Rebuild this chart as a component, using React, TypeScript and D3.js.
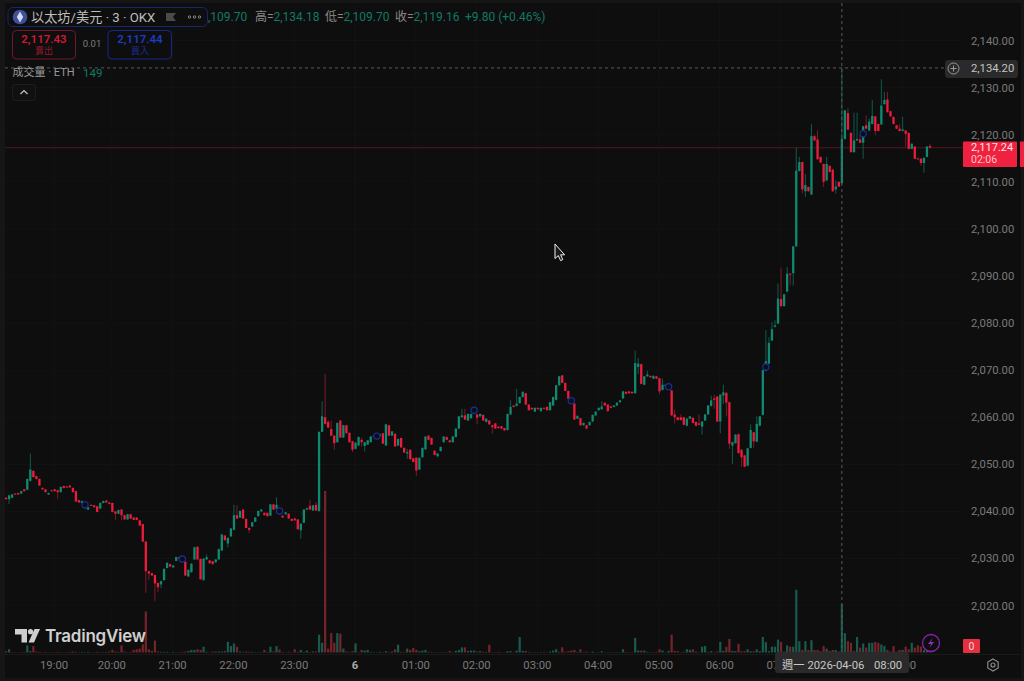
import React from "react";
import * as d3 from "d3";

const opens = [
2042.9,2042.6,2042.9,2043.8,2043.9,2043.8,2044.7,2044.6,2046.5,2048.6,
2047.5,2046.9,2045,2044.7,2043.6,2044.5,2044.7,2044.5,2044.1,2045.4,
2045.3,2045.5,2045,2044.3,2042.4,2041.8,2041.1,2040.4,2041.4,2041.3,
2041.1,2040.6,2041.8,2042.3,2041.9,2041.8,2040,2039.5,2040.4,2039.2,
2038.3,2039.4,2038.7,2038.7,2038.1,2037.3,2033.6,2027.3,2026.9,2026.5,
2024.8,2024.5,2025.4,2028,2028.8,2028.1,2029.5,2030.3,2030,2029.3,
2026.2,2027.1,2029.8,2032.5,2029.9,2025.4,2029.8,2029.6,2029.4,2029.2,
2029.8,2031.7,2034.9,2033.2,2034.7,2036.1,2039.2,2038.7,2040.4,2038.4,
2036.5,2036.8,2037.8,2039,2040,2039.7,2039.7,2039.1,2041.5,2040.6,
2040.5,2039.1,2039.4,2039.5,2038.4,2038.5,2038.3,2036,2037.6,2040.4,
2041.2,2040.2,2041.4,2040.1,2056.9,2060,2059,2057.5,2056.1,2054.7,
2059.3,2055.7,2058.3,2056.7,2054.9,2053.3,2054,2055.2,2053.9,2054.2,
2054.7,2055.9,2055.8,2056.1,2056.6,2054,2058.3,2056.1,2056.5,2054,
2055.6,2053.5,2052.3,2053.1,2051.3,2051.4,2048.9,2051.5,2053.2,2056.1,
2055.6,2052.9,2051.7,2052.8,2054.7,2055.8,2055.1,2054.7,2055.8,2057.6,
2060,2060.4,2059.3,2059.8,2061,2060.6,2060.2,2060.5,2059,2059.3,
2058.3,2058.7,2058,2058.1,2057.7,2057.3,2060.6,2062.5,2062.4,2063,
2064.3,2065.1,2062.7,2062,2061.2,2062,2061.3,2062,2062.2,2061.5,
2062.5,2063.7,2066.8,2068.9,2067.3,2065.6,2063.9,2062.9,2059.7,2059.8,
2058.3,2058.3,2058.3,2059.1,2060.4,2061.5,2061.7,2063.1,2062.7,2062.3,
2062.2,2062.5,2063.2,2064,2065.4,2065.5,2065.4,2065.1,2070.7,2071.3,
2066.9,2068.7,2068.8,2068.2,2068.7,2068.3,2065.8,2066.6,2066.3,2065.7,
2060.6,2060,2060,2060,2058.2,2059.7,2059.9,2059,2058.7,2058,
2059.3,2060.6,2062.4,2064,2064.4,2059.1,2064.6,2065.2,2063.2,2054,
2054.5,2056.4,2053.1,2051.9,2049.7,2053.5,2056.8,2054.8,2058.2,2060.5,
2069.9,2071.4,2076.3,2079.2,2079.9,2085.1,2083.6,2086.7,2090.5,2090.6,
2096.3,2112.3,2114.2,2108,2108.9,2107.3,2119.7,2119,2115.3,2113.8,
2110.3,2113.4,2112.6,2108.4,2110,2109.7,2119.1,2124.6,2120.4,2116.3,
2118.8,2119,2118.3,2122,2120.9,2122.3,2123.9,2122.3,2122.2,2126.5,
2127.5,2125,2123.8,2122,2121.3,2120.8,2120.9,2120.4,2117,2117.5,
2115,2114.9,2114,2115.3,2117.6,
];

const closes = [
2042.6,2043.4,2043.6,2043.6,2043.6,2044.3,2044.3,2046.9,2048.9,2047.3,
2046.9,2045.5,2044.7,2044.1,2043.9,2044.3,2044.3,2044.1,2045.2,2045,
2045.1,2045.1,2044.1,2042.1,2041.9,2042.2,2041.9,2040.9,2041.2,2040.9,
2039.9,2041.8,2042.2,2041.9,2041.6,2039.9,2039.5,2040.3,2039.2,2038.3,
2039.4,2038.5,2038.2,2038.2,2037,2033.6,2027.3,2026.8,2026.4,2024.7,
2023.9,2025.2,2027.8,2029.1,2028.3,2028.5,2030.3,2030,2029.5,2026.4,
2027.6,2028.9,2032.4,2029.8,2025.6,2030,2030.3,2029,2028.8,2029.8,
2032,2035.1,2033.9,2034.4,2036.4,2039.2,2038.5,2040.1,2038.5,2036.5,
2036.1,2037.7,2038.7,2040.1,2040.4,2039.2,2039,2041.5,2040.4,2041.4,
2039.5,2038.7,2039.8,2038.5,2038,2038.1,2036.2,2037.4,2040.4,2040.7,
2040.4,2041.3,2040.2,2056.9,2060.2,2058.6,2057.8,2056.1,2054.5,2058.8,
2055.7,2058.3,2056.6,2054.7,2053.1,2054.6,2055.8,2054.7,2054.7,2055.1,
2055.9,2056.1,2056,2056.4,2054.4,2058.5,2056.1,2057,2053.8,2055.4,
2053.6,2052.5,2052.6,2051.1,2050.5,2048.7,2051.4,2053.5,2055.9,2055.2,
2054.2,2052,2052.3,2053.7,2055.9,2055.2,2054.7,2055.9,2057.6,2060.2,
2060.4,2059.5,2060.7,2060.7,2061.4,2059.9,2060.7,2059.3,2059.7,2058.5,
2057.9,2057.6,2057.7,2057.6,2057.2,2060.7,2062.2,2062.2,2062.9,2064.3,
2065.4,2062.7,2061.5,2061.7,2062,2061.7,2062,2061.8,2061.5,2063.2,
2064.3,2066.8,2068.7,2067.3,2065.6,2063.9,2063,2059.5,2060.3,2058.3,
2058.8,2057.6,2059,2060.5,2061.2,2062,2062.3,2062.5,2061.3,2062,
2062.5,2063.1,2063.6,2065.5,2065,2065.1,2065.1,2071.5,2071.4,2067.1,
2068.7,2069.1,2068.5,2068.8,2068.2,2065.5,2066.9,2066.9,2066.5,2060.4,
2060,2059.4,2059.4,2058.4,2059.7,2060.2,2058.8,2058.2,2058.4,2059.1,
2060.6,2062.5,2063.6,2063.7,2059.1,2064.8,2065.3,2063.1,2054.4,2054.7,
2056.3,2052.4,2051.5,2049.5,2053.4,2057.3,2054.9,2058.6,2060.2,2070,
2071.9,2075.8,2078.7,2079.5,2085.2,2083.6,2086.1,2090.5,2090.3,2096.3,
2112.4,2114.2,2108.4,2109.3,2108,2119.7,2118.8,2114.8,2114.1,2110,
2113.8,2112.1,2108,2109,2109,2119.16,2125.2,2121.1,2116.3,2118.8,
2119.1,2118.3,2121.8,2121.3,2122.8,2124,2120.8,2120.8,2126.2,2127.4,
2124.8,2123.9,2122.3,2121.3,2120.8,2121.1,2120.2,2117,2118.1,2114.9,
2114.8,2114,2115.1,2117.5,2117.24,
];

const highs = [
2043,2043.6,2043.7,2043.9,2044,2044.4,2044.8,2047,2052.3,2048.8,
2047.6,2047,2045.1,2044.8,2044,2044.6,2044.8,2044.6,2045.3,2045.5,
2045.4,2045.6,2045.1,2044.4,2042.5,2042.3,2042,2041,2041.5,2041.4,
2041.2,2041.9,2042.3,2042.4,2042,2041.9,2040.1,2040.4,2040.5,2039.3,
2039.5,2039.5,2038.8,2038.8,2038.2,2037.4,2033.7,2027.4,2027,2026.6,
2024.9,2025.3,2027.9,2029.2,2028.9,2028.6,2030.4,2030.4,2030.1,2029.4,
2027.7,2029,2032.5,2032.6,2030,2030.1,2030.9,2029.7,2029.5,2029.9,
2032.1,2035.2,2035,2034.5,2036.5,2041.4,2041.3,2040.2,2040.5,2038.5,
2036.6,2037.8,2038.8,2040.2,2040.5,2039.8,2039.8,2041.6,2041.6,2043,
2040.6,2039.2,2039.9,2039.6,2038.5,2038.6,2038.4,2037.5,2040.5,2040.8,
2042.4,2041.4,2042,2057,2063.4,2069.2,2059.4,2059.3,2056.2,2058.9,
2059.4,2058.4,2058.4,2056.8,2055,2054.7,2055.9,2055.6,2054.8,2055.2,
2056,2056.2,2056.1,2056.5,2056.7,2058.6,2058.4,2057.1,2056.6,2055.5,
2055.7,2053.6,2053.3,2053.2,2051.4,2051.5,2051.5,2053.6,2056,2056.2,
2055.7,2053,2052.4,2053.8,2056,2055.9,2055.2,2056,2057.7,2060.3,
2061.8,2061.8,2060.8,2060.8,2061.5,2060.7,2060.8,2060.6,2059.8,2059.4,
2058.4,2058.8,2058.1,2058.2,2057.8,2060.8,2063.6,2062.6,2066,2064.4,
2065.5,2065.2,2062.8,2062.1,2062.1,2062.1,2062.1,2062.1,2062.3,2063.3,
2064.4,2066.9,2068.8,2069,2067.4,2065.7,2064,2063,2060.4,2059.9,
2058.9,2058.4,2059.1,2060.6,2061.3,2062.1,2063.4,2063.2,2062.8,2062.4,
2062.6,2063.2,2063.7,2065.6,2065.5,2065.6,2065.5,2074.2,2072.6,2071.4,
2068.8,2069.9,2068.9,2068.9,2068.8,2068.4,2068.2,2067,2066.6,2065.8,
2061.6,2060.1,2060.6,2060.1,2059.8,2060.3,2060,2059.1,2060.6,2059.2,
2060.7,2062.6,2064.6,2064.8,2064.5,2064.9,2066.9,2065.3,2063.3,2054.8,
2056.4,2056.5,2053.2,2052,2053.5,2058.5,2056.9,2060.2,2060.3,2070.1,
2078.5,2077,2080.2,2080.6,2088.4,2091.8,2086.2,2091.9,2090.6,2096.4,
2117.3,2115.3,2114.3,2111.7,2109,2122.3,2120,2120.9,2115.4,2113.9,
2115.3,2113.5,2112.7,2110.3,2110.1,2134.18,2125.3,2125.7,2120.5,2124.7,
2124.7,2119.9,2121.9,2124.1,2123.5,2127.4,2124,2122.4,2131.8,2129.1,
2129.1,2125.1,2123.9,2122.1,2122.3,2123.8,2121,2120.5,2118.2,2117.6,
2115.1,2115,2115.2,2117.6,2118.1,
];

const lows = [
2042.5,2041.6,2042.8,2043.5,2043.5,2043.7,2044.2,2044.5,2046.3,2047.2,
2046.8,2045.4,2044.6,2044,2043.5,2044.2,2044.2,2042.7,2044,2044.9,
2045,2045,2044,2042,2041.8,2041.7,2040.5,2040.3,2041.1,2040.8,
2039.8,2040.5,2041.7,2041.8,2041.5,2039.8,2038.2,2039.4,2038.1,2038.2,
2038.2,2038.4,2038.1,2038.1,2036.9,2033.5,2022.7,2025.4,2026.3,2021,
2022.9,2023.7,2025.3,2027.9,2028.2,2028,2029.4,2029.9,2029.4,2026.3,
2026.1,2027,2029.7,2029.7,2025.5,2025.3,2029.7,2028.9,2028.7,2029.1,
2029.7,2031.6,2033.8,2032.4,2034.6,2036,2038.4,2038.6,2038.4,2036.4,
2035.4,2036.7,2037.7,2038.9,2039.9,2039.1,2038.9,2039,2040.3,2040.5,
2039.4,2038.6,2039.3,2038.4,2037.9,2038,2036.1,2034.2,2037.5,2040.3,
2040.3,2040.1,2040.1,2039.9,2056.8,2058.5,2057.7,2056,2053.1,2054.6,
2055.6,2055.6,2056.5,2054.6,2052.6,2053.2,2053.9,2053.8,2052.7,2054.1,
2054.6,2055.8,2055.7,2056,2054.3,2053.9,2056,2056,2053.7,2053.9,
2053.5,2052.4,2051.2,2051,2050.4,2047.6,2048.8,2051.4,2053.1,2055.1,
2054.1,2051.9,2051.6,2052.7,2054.6,2055.1,2054.6,2054.6,2055.7,2057.5,
2059.9,2059.4,2059.2,2059.7,2060.9,2058.5,2060.1,2059.2,2058.9,2058.4,
2056.5,2057.5,2057.6,2057.5,2057.1,2057.2,2060.5,2062.1,2062.3,2062.9,
2064.2,2062.6,2061.4,2061.6,2061.1,2061.6,2061.2,2061.7,2061.4,2061.4,
2062.4,2063.6,2066.7,2067.2,2065.5,2063.8,2062.9,2059.4,2059.6,2058.2,
2058.2,2057.5,2058.2,2059,2060.3,2061.4,2061.6,2062.4,2061.2,2061.9,
2062.1,2062.4,2063.1,2063.9,2064.9,2065,2065,2065,2069.2,2067,
2066.8,2068.6,2068.4,2068.1,2068.1,2064.9,2065.7,2066.5,2066.2,2060.3,
2058.7,2059.3,2059.3,2058.3,2058.1,2059.6,2058.7,2058.1,2058.3,2056.3,
2059.2,2060.5,2062.3,2061.8,2059,2056.6,2062.8,2060.2,2053.3,2050.1,
2054.4,2052.3,2049.5,2049.4,2049.6,2053.4,2053.5,2054.7,2058.1,2060.4,
2069.8,2071.3,2076.2,2079.1,2079.8,2083.5,2083.5,2086.6,2088,2088,
2096.2,2112.2,2107.5,2106.8,2107.9,2107.2,2118.7,2114.7,2114,2108.9,
2110.2,2112,2107.9,2107.5,2108.9,2109.7,2119,2121,2116.2,2116.2,
2118.7,2118.2,2114.9,2121.2,2120.8,2122.2,2119.9,2120.7,2122.1,2126.4,
2124.7,2123.8,2122.2,2121.2,2120.7,2120.7,2117.4,2116.9,2116.9,2114.8,
2114.7,2113.4,2111.9,2115.2,2117.1,
];

const volumes = [
4,10,1,1,1,1,2,22,4,20,
3,2,1,2,1,1,1,2,1,1,
1,2,3,2,1,2,1,2,1,1,
2,1,1,2,3,8,3,2,22,3,
1,2,8,10,12,25,127,10,5,37,
3,2,2,2,1,2,1,1,2,3,
5,8,8,10,8,18,2,1,3,3,
3,3,5,33,20,28,18,3,2,3,
2,2,1,1,1,8,2,18,3,20,
9,2,1,2,1,10,2,8,2,6,
2,3,3,55,30,500,12,60,30,60,
58,12,3,2,4,28,1,8,6,8,
2,1,1,2,1,4,2,3,10,24,
2,2,12,8,14,8,4,6,8,2,
2,1,1,1,1,1,5,1,5,8,
16,16,5,6,6,3,4,2,2,24,
1,1,2,1,1,4,4,1,6,48,
5,5,2,1,1,1,1,2,1,3,
6,10,2,16,2,4,6,8,2,10,
1,3,1,3,1,1,4,1,1,1,
1,1,1,10,2,1,1,45,6,6,
6,2,1,1,2,10,6,1,5,55,
5,4,1,2,10,8,10,3,1,18,
20,2,4,1,3,33,5,18,42,5,
4,27,4,4,10,4,4,10,4,48,
32,4,18,18,40,33,3,22,18,18,
194,35,8,35,8,38,8,8,4,20,
12,5,8,8,3,149,60,35,30,4,
48,15,28,15,30,30,33,30,25,20,
8,3,20,3,8,8,18,10,30,15,
22,18,8,6,1,
];

const priceTicks = [2140, 2130, 2120, 2110, 2100, 2090, 2080, 2070, 2060, 2050, 2040, 2030, 2020];
const timeTickBars = [15, 34, 54, 74, 94, 114, 134, 154, 174, 194, 214, 234, 254, 294];
const timeTickLabels = ["19:00", "20:00", "21:00", "22:00", "23:00", "6", "01:00", "02:00", "03:00", "04:00", "05:00", "06:00", "07:00", "09:00"];
const markerBars = [26, 58, 90, 122, 154, 186, 218, 250, 282];
const markerPrices = [2041.4, 2029.9, 2040.1, 2056, 2061.5, 2063.5, 2066.5, 2070.7, 2120.2];
const hoverBar = 275;
const hoverPrice = 2134.2;
const lastPrice = 2117.24;

const FONT = 'Roboto, "Noto Sans CJK TC", sans-serif';
const UP = "#0f8a70";
const DOWN = "#ee1c3c";
const UP_WICK = "#0d5c4d";
const DOWN_WICK = "#7c1a2a";
const UP_VOL = "#1a5a4e";
const DOWN_VOL = "#76242c";
const GRID = "#131313";
const AXIS = "#7b7b7b";
const BG = "#0e0e0e";

const x = d3.scaleLinear().domain([0, opens.length - 1]).range([6, 930]);
const y = d3.scaleLinear().domain([2020, 2140]).range([605.6, 40.6]);
const vy = d3.scaleLinear().domain([0, 500]).range([652.5, 491]);
const fmt = d3.format(",.2f");

export default function App() {
  const bw = 2.3;
  return (
    <svg
      width={1024}
      height={681}
      viewBox="0 0 1024 681"
      style={{ position: "absolute", left: 0, top: 0, display: "block", fontFamily: FONT }}
    >
      <rect width={1024} height={681} fill="#161616" />
      <rect x={5} y={3} width={1016} height={675} fill={BG} />

      {/* grid */}
      {priceTicks.map((p) => (
        <line key={p} x1={5} x2={963} y1={y(p)} y2={y(p)} stroke={GRID} />
      ))}
      {timeTickBars.map((b) => (
        <line key={b} x1={x(b) + 2.5} x2={x(b) + 2.5} y1={3} y2={653} stroke={GRID} />
      ))}
      <line x1={5} x2={1021} y1={654.5} y2={654.5} stroke="#1a1a1a" />

      {/* volume */}
      {volumes.map((v, i) => (
        <rect
          key={i}
          x={x(i) - 1.1}
          width={2.2}
          y={vy(v)}
          height={vy(0) - vy(v)}
          fill={closes[i] >= opens[i] ? UP_VOL : DOWN_VOL}
        />
      ))}

      {/* last price line */}
      <line x1={5} x2={963} y1={y(lastPrice)} y2={y(lastPrice)} stroke="#571420" strokeWidth={1} />

      {/* candles */}
      {opens.map((o, i) => {
        const c = closes[i];
        const up = c >= o;
        const top = y(Math.max(o, c));
        const bot = y(Math.min(o, c));
        return (
          <g key={i}>
            <line
              x1={x(i)}
              x2={x(i)}
              y1={y(highs[i])}
              y2={y(lows[i])}
              stroke={up ? UP_WICK : DOWN_WICK}
              strokeWidth={1}
            />
            <rect
              x={x(i) - bw / 2}
              width={bw}
              y={top}
              height={Math.max(bot - top, 1)}
              fill={up ? UP : DOWN}
            />
          </g>
        );
      })}

      {/* order markers */}
      {markerBars.map((b, i) => (
        <circle key={b} cx={x(b)} cy={y(markerPrices[i])} r={3.1} fill={BG} stroke="#14309c" strokeWidth={1.2} />
      ))}

      {/* crosshair */}
      <line x1={x(hoverBar)} x2={x(hoverBar)} y1={3} y2={653} stroke="#5a5a5a" strokeDasharray="3 3" />
      <line x1={5} x2={945} y1={y(hoverPrice)} y2={y(hoverPrice)} stroke="#5a5a5a" strokeDasharray="3 3" />

      {/* price axis */}
      {priceTicks.map((p) => (
        <text key={p} x={971} y={y(p)} dy="0.35em" fontSize={11.3} fill={AXIS}>
          {fmt(p)}
        </text>
      ))}

      {/* crosshair price label */}
      <rect x={945} y={60} width={73} height={18} rx={3} fill="#2a2a2a" />
      <circle cx={953.5} cy={68.5} r={5.5} fill="none" stroke="#9a9a9a" />
      <path d="M950.5 68.5H956.5M953.5 65.5V71.5" stroke="#9a9a9a" />
      <text x={971} y={68.5} dy="0.35em" fontSize={11.3} fill="#c4c4c4">
        {fmt(hoverPrice)}
      </text>

      {/* last price label */}
      <rect x={963} y={141.5} width={54} height={25.5} rx={1} fill="#f0203f" />
      <rect x={1020} y={141.5} width={4} height={25.5} fill="#f0203f" />
      <text x={971} y={147.6} dy="0.35em" fontSize={11} fill="#ffe4e8">
        {fmt(lastPrice)}
      </text>
      <text x={971} y={159.6} dy="0.35em" fontSize={10.5} fill="#ffc4cc">
        02:06
      </text>

      {/* volume label */}
      <rect x={963} y={639} width={17} height={14} rx={1} fill="#e6303f" />
      <text x={971.5} y={646} dy="0.35em" textAnchor="middle" fontSize={10.5} fill="#f6d4d8">
        0
      </text>

      {/* lightning */}
      <circle cx={931} cy={643} r={8.5} fill={BG} stroke="#8524a8" strokeWidth={1.3} />
      <path d="M932.5 638L928 644H931L929.5 648L934 642H931Z" fill="#8f2cb4" />

      {/* time axis */}
      {timeTickBars.map((b, i) => (
        <text
          key={b}
          x={x(b) + 2.5}
          y={665}
          dy="0.35em"
          textAnchor="middle"
          fontSize={11.3}
          fontWeight={timeTickLabels[i] === "6" ? 700 : 400}
          fill={timeTickLabels[i] === "6" ? "#a8a8a8" : AXIS}
        >
          {timeTickLabels[i]}
        </text>
      ))}
      <rect x={775} y={652} width={134} height={21} rx={3} fill="#2a2a2a" />
      <text x={782} y={665} dy="0.35em" fontSize={11.3} fill="#c8c8c8">
        週一 2026-04-06
      </text>
      <text x={874} y={665} dy="0.35em" fontSize={11.3} fill="#c8c8c8">
        08:00
      </text>

      {/* settings */}
      <path d="M993 659L998.2 662V668L993 671L987.8 668V662Z" fill="none" stroke="#8a8a8a" strokeWidth={1.2} />
      <circle cx={993} cy={665} r={2} fill="none" stroke="#8a8a8a" strokeWidth={1.2} />

      {/* TradingView logo */}
      <g fill="#cfcfcf">
        <path d="M15 629H27V642.5H21.5V634.5H15Z" />
        <circle cx={30.5} cy={631.7} r={2.6} />
        <path d="M34.5 629H40L34 642.5H28.5Z" />
        <text x={45} y={642} fontSize={17} fontWeight={600} fontFamily="Inter, Roboto, sans-serif" letterSpacing={-0.25}>
          TradingView
        </text>
      </g>

      {/* header */}
      <rect x={8} y={7.5} width={199.5} height={19} rx={5} fill={BG} stroke="#16276e" />
      <circle cx={20} cy={17} r={7.3} fill="#3f4f9c" />
      <path d="M20 11.5L23.2 17L20 22.5L16.8 17Z" fill="#d4d9ef" />
      <text x={31} y={17} dy="0.35em" fontSize={13.2} fill="#bdbdbd">
        以太坊/美元 · 3 · OKX
      </text>
      <path d="M166 13H176L173 17L176 21H166Z" fill="#4a4a4a" />
      <g fill="none" stroke="#8a8a8a">
        <circle cx={189.5} cy={17} r={1.2} />
        <circle cx={194.5} cy={17} r={1.2} />
        <circle cx={199.5} cy={17} r={1.2} />
      </g>

      <text x={208} y={17} dy="0.35em" fontSize={12} fill="#0e7a66">,109.70</text>
      <text x={255} y={17} dy="0.35em" fontSize={12} fill="#8a8a8a">高=</text>
      <text x={273.5} y={17} dy="0.35em" fontSize={12} fill="#0e7a66">2,134.18</text>
      <text x={325} y={17} dy="0.35em" fontSize={12} fill="#8a8a8a">低=</text>
      <text x={343.5} y={17} dy="0.35em" fontSize={12} fill="#0e7a66">2,109.70</text>
      <text x={395} y={17} dy="0.35em" fontSize={12} fill="#8a8a8a">收=</text>
      <text x={413.5} y={17} dy="0.35em" fontSize={12} fill="#0e7a66">2,119.16</text>
      <text x={465} y={17} dy="0.35em" fontSize={12} fill="#0e7a66">+9.80 (+0.46%)</text>

      {/* trade buttons */}
      <rect x={12.5} y={30.5} width={63} height={28.5} rx={4} fill={BG} stroke="#72182a" />
      <text x={44} y={39} dy="0.35em" textAnchor="middle" fontSize={11.5} fontWeight={600} fill="#cc1a36">
        2,117.43
      </text>
      <text x={44} y={50.5} dy="0.35em" textAnchor="middle" fontSize={9} fill="#8e1a2c">
        賣出
      </text>
      <text x={92} y={44} dy="0.35em" textAnchor="middle" fontSize={9.5} fill="#7d7d7d">
        0.01
      </text>
      <rect x={108} y={30.5} width={63.5} height={28.5} rx={4} fill={BG} stroke="#16298a" />
      <text x={140} y={39} dy="0.35em" textAnchor="middle" fontSize={11.5} fontWeight={600} fill="#1e3bc4">
        2,117.44
      </text>
      <text x={140} y={50.5} dy="0.35em" textAnchor="middle" fontSize={9} fill="#1a2f94">
        買入
      </text>

      {/* volume legend */}
      <text x={12.5} y={72.5} dy="0.35em" fontSize={11} fill="#9a9a9a">
        成交量 · ETH
      </text>
      <text x={83} y={72.5} dy="0.35em" fontSize={11.5} fill="#0e7a66">
        149
      </text>
      <rect x={12.5} y={84.5} width={23} height={16} rx={2} fill="#101010" stroke="#1d1d1d" />
      <path d="M20.5 94L24 90.5L27.5 94" fill="none" stroke="#c4c4c4" strokeWidth={1.2} />

      {/* mouse cursor */}
      <path
        d="M555 244V258.5L558.3 255.6L560.6 260.6L562.8 259.6L560.6 254.8H564.6Z"
        fill="#1a1a1a"
        stroke="#f0f0f0"
        strokeWidth={1}
      />
    </svg>
  );
}
